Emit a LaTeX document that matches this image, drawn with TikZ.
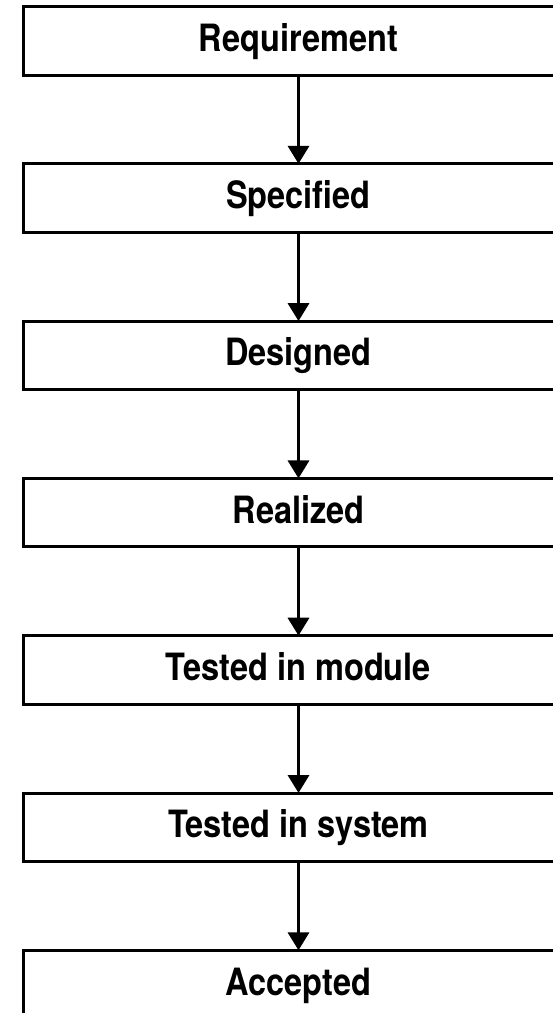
\documentclass[tikz,border=0pt]{standalone}
\usepackage{fontspec}
\setmainfont[FakeStretch=0.865]{TeX Gyre Heros}
\usetikzlibrary{arrows.meta}
\tikzset{
  stagebox/.style={draw=black, line width=3pt, rectangle, outer sep=0pt,
    minimum width=551pt, minimum height=68.5pt, inner sep=0pt,
    font=\fontsize{37.6}{40}\selectfont\bfseries,
    text height=27pt, text depth=6pt},
  flowarrow/.style={line width=3.5pt, -{Triangle[width=21pt,length=18pt]}, shorten >=0pt}
}
\begin{document}
\begin{tikzpicture}[x=1pt,y=-1pt]
\useasboundingbox (0,0) rectangle (553,1013);
\clip (0,0) rectangle (553,1013);
\node[stagebox] (b1) at (298.5,40.75) {Requirement};
\node[stagebox] (b2) at (298.5,198.05) {Specified};
\node[stagebox] (b3) at (298.5,355.35) {Designed};
\node[stagebox] (b4) at (298.5,512.65) {Realized};
\node[stagebox] (b5) at (298.5,669.95) {Tested in module};
\node[stagebox] (b6) at (298.5,827.25) {Tested in system};
\node[stagebox] (b7) at (298.5,984.55) {Accepted};
\foreach \a/\b in {b1/b2,b2/b3,b3/b4,b4/b5,b5/b6,b6/b7}
  \draw[flowarrow] (\a.south) -- (\b.north);
\end{tikzpicture}
\end{document}
